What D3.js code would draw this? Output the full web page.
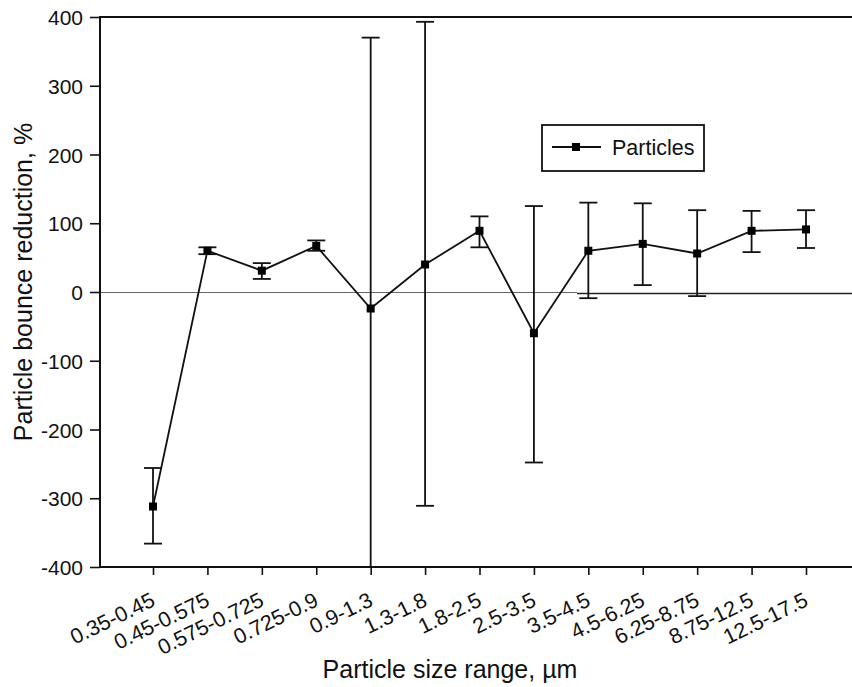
<!DOCTYPE html>
<html>
<head>
<meta charset="utf-8">
<script src="https://cdn.jsdelivr.net/npm/d3@7"></script>
<style>
  html, body { margin: 0; padding: 0; background: #fff; }
  svg { display: block; font-family: "Liberation Sans", Arial, sans-serif; }
</style>
</head>
<body>
<svg id="chart" width="852" height="687"></svg>
<script>
const categories = ["0.35-0.45", "0.45-0.575", "0.575-0.725", "0.725-0.9", "0.9-1.3", "1.3-1.8",
  "1.8-2.5", "2.5-3.5", "3.5-4.5", "4.5-6.25", "6.25-8.75", "8.75-12.5", "12.5-17.5"];
const values     = [-312, 60, 31, 67, -24, 40, 89, -60, 60, 70, 56, 89, 91];
const errUpper   = [-256, 65, 42, 75, 370, 393, 110, 125, 130, 129, 119, 118, 119];
const errLower   = [-366, 55, 19, 60, -430, -311, 65, -248, -9, 10, -6, 58, 64];
const yTicks     = [-400, -300, -200, -100, 0, 100, 200, 300, 400];
const seriesName = "Particles";
const xTitle = "Particle size range, \u00b5m";
const yTitle = "Particle bounce reduction, %";

(function () {
const svg = d3.select("#chart");
const pL = 100, pR = 860, pT = 17, pB = 567;

const x = d3.scalePoint().domain(categories).range([153, 806]);
const y = d3.scaleLinear().domain([-400, 400]).range([pB, pT]);

const data = categories.map((c, i) => ({ c, v: values[i], hi: errUpper[i], lo: errLower[i] }));

svg.append("defs").append("clipPath").attr("id", "clip")
  .append("rect").attr("x", pL).attr("y", pT).attr("width", pR - pL).attr("height", pB - pT);

// zero reference line (two segments as in the reference)
const splitX = 577;
svg.append("line").attr("x1", pL).attr("x2", splitX)
  .attr("y1", y(0)+0.5).attr("y2", y(0)+0.5)
  .attr("stroke", "#666").attr("stroke-width", 1.2);
svg.append("line").attr("x1", splitX).attr("x2", pR)
  .attr("y1", y(0)+1.5).attr("y2", y(0)+1.5)
  .attr("stroke", "#222").attr("stroke-width", 1.5);

// Y axis
const yAxis = d3.axisLeft(y).tickValues(yTicks).tickSize(10).tickPadding(7).tickFormat(d => String(d));
const gy = svg.append("g").attr("transform", `translate(${pL},0)`).call(yAxis);
gy.select(".domain").remove();
gy.selectAll(".tick line").attr("stroke", "#111").attr("stroke-width", 1.6);
gy.selectAll(".tick text").attr("font-size", 21).attr("fill", "#111")
  .attr("font-family", "Liberation Sans, Arial, sans-serif").attr("dy", "0.36em");

// X axis
const xAxis = d3.axisBottom(x).tickSize(8).tickFormat(d => d);
const gx = svg.append("g").attr("transform", `translate(0,${pB})`).call(xAxis);
gx.select(".domain").remove();
gx.selectAll(".tick line").attr("stroke", "#111").attr("stroke-width", 1.6);
gx.selectAll(".tick text")
  .attr("font-size", 21.5).attr("fill", "#111")
  .attr("font-family", "Liberation Sans, Arial, sans-serif")
  .attr("text-anchor", "end")
  .attr("y", 0).attr("dy", 0)
  .attr("transform", "translate(3,38) rotate(-26)");

// frame lines
svg.append("line").attr("x1", pL).attr("x2", pL).attr("y1", pT - 1).attr("y2", pB + 1)
  .attr("stroke", "#111").attr("stroke-width", 2);
svg.append("line").attr("x1", pL - 1).attr("x2", pR).attr("y1", pB).attr("y2", pB)
  .attr("stroke", "#111").attr("stroke-width", 2);
svg.append("line").attr("x1", pL - 1).attr("x2", pR).attr("y1", pT).attr("y2", pT)
  .attr("stroke", "#111").attr("stroke-width", 2);

// error bars
const eb = svg.append("g").attr("clip-path", "url(#clip)");
const capW = 9;
data.forEach(d => {
  const cx = x(d.c);
  eb.append("line").attr("x1", cx).attr("x2", cx).attr("y1", y(d.hi)).attr("y2", y(d.lo))
    .attr("stroke", "#111").attr("stroke-width", 1.8);
  eb.append("line").attr("x1", cx - capW).attr("x2", cx + capW).attr("y1", y(d.hi)).attr("y2", y(d.hi))
    .attr("stroke", "#111").attr("stroke-width", 1.8);
  eb.append("line").attr("x1", cx - capW).attr("x2", cx + capW).attr("y1", y(d.lo)).attr("y2", y(d.lo))
    .attr("stroke", "#111").attr("stroke-width", 1.8);
});

// series line
const line = d3.line().x(d => x(d.c)).y(d => y(d.v));
svg.append("path").datum(data).attr("d", line)
  .attr("fill", "none").attr("stroke", "#111").attr("stroke-width", 1.8);

// markers
const ms = 8;
svg.append("g").selectAll("rect").data(data).join("rect")
  .attr("x", d => x(d.c) - ms/2).attr("y", d => y(d.v) - ms/2)
  .attr("width", ms).attr("height", ms).attr("fill", "#000");

// legend
const lg = svg.append("g");
lg.append("rect").attr("x", 542).attr("y", 125).attr("width", 162).attr("height", 46)
  .attr("fill", "#fff").attr("stroke", "#111").attr("stroke-width", 1.8);
lg.append("line").attr("x1", 552).attr("x2", 601).attr("y1", 147).attr("y2", 147)
  .attr("stroke", "#111").attr("stroke-width", 1.8);
lg.append("rect").attr("x", 576 - ms/2).attr("y", 147 - ms/2).attr("width", ms).attr("height", ms).attr("fill", "#000");
lg.append("text").attr("x", 612).attr("y", 147).attr("dy", "0.36em")
  .attr("font-size", 21.5).attr("fill", "#111").text(seriesName);

// axis titles
svg.append("text").attr("x", 450).attr("y", 678).attr("text-anchor", "middle")
  .attr("font-size", 25).attr("fill", "#111").text(xTitle);
svg.append("text").attr("transform", "translate(32,282) rotate(-90)").attr("text-anchor", "middle")
  .attr("font-size", 25).attr("fill", "#111").text(yTitle);
})();
</script>
</body>
</html>
